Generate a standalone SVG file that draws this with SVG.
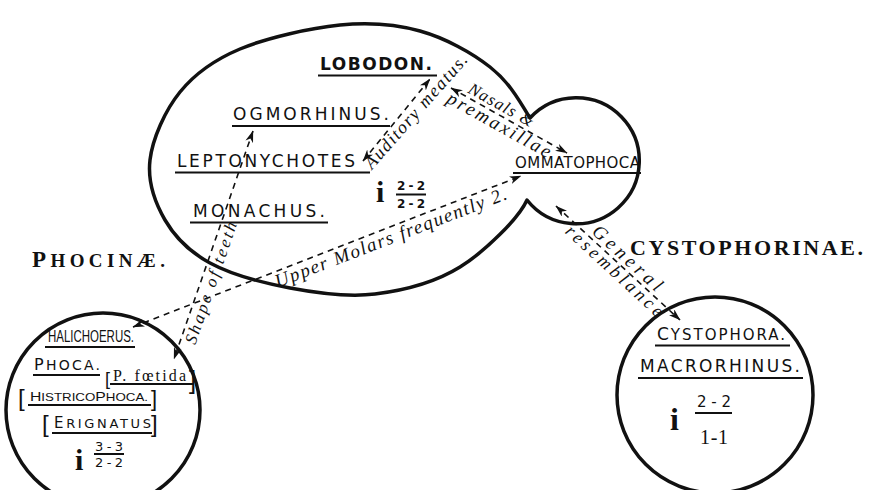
<svg xmlns="http://www.w3.org/2000/svg" width="871" height="490" viewBox="0 0 871 490">
<defs>
<marker id="ah" viewBox="0 0 12 8" refX="11.5" refY="4" markerWidth="12" markerHeight="8" markerUnits="userSpaceOnUse" orient="auto-start-reverse"><path d="M0,0 L12,4 L0,8 L3.5,4 Z" fill="#111"/></marker>
<style>
.cap{font-family:"DejaVu Sans","Liberation Sans",sans-serif;fill:#111}
.br{font-family:"Liberation Sans",sans-serif;fill:#111}
.ser{font-family:"Liberation Serif",serif;fill:#111}
.it{font-family:"Liberation Serif",serif;font-style:italic;fill:#111}
.ul{stroke:#111;stroke-width:2;fill:none}
.outline{stroke:#111;stroke-width:3.5;fill:none;stroke-linejoin:round}
.conn{stroke:#111;stroke-width:1.6;stroke-dasharray:6 5;fill:none;marker-start:url(#ah);marker-end:url(#ah)}
</style>
</defs>
<rect width="871" height="490" fill="#fff"/>

<g id="group-outlines">
<path id="monachinae-outline" class="outline" d="M530,118 C518,98 508.3,81.5 490,67 C471.7,52.5 445,38 420,31 C395,24 370,22 340,25 C310,28 266.7,37.8 240,49 C213.3,60.2 195,73.5 180,92 C165,110.5 152.5,138.7 150,160 C147.5,181.3 155,202.8 165,220 C175,237.2 189.2,251.7 210,263 C230.8,274.3 262.5,282.8 290,288 C317.5,293.2 346.7,297.5 375,294 C403.3,290.5 434.7,282.7 460,267 C485.3,251.3 519,218 527,200 A63,63 0 1 0 530,118 Z"/>
<circle id="phocinae-circle" class="outline" cx="103" cy="410" r="97"/>
<circle id="cystophorinae-circle" class="outline" cx="715" cy="395" r="98"/>
</g>

<g id="titles">
<text class="ser" font-weight="bold" x="32" y="267" textLength="133" lengthAdjust="spacing"><tspan font-size="23">P</tspan><tspan font-size="19">HOCINÆ.</tspan></text>
<text class="ser" font-weight="bold" font-size="22" x="630" y="255" textLength="233" lengthAdjust="spacing">CYSTOPHORINAE.</text>
</g>

<g id="lobodon">
<text class="cap" font-weight="bold" font-size="17" x="320" y="70" textLength="112" lengthAdjust="spacing">LOBODON.</text>
<path class="ul" d="M318,75.5 H437"/>
</g>
<g id="ogmorhinus">
<text class="cap" font-size="17" x="233" y="120" textLength="156" lengthAdjust="spacing">OGMORHINUS.</text>
<path class="ul" d="M232,126 H390"/>
</g>
<g id="leptonychotes">
<text class="cap" font-size="17" x="177" y="167" textLength="178" lengthAdjust="spacing">LEPTONYCHOTES</text>
<path class="ul" d="M175,172.5 H370"/>
</g>
<g id="monachus">
<text class="cap" font-size="17" x="193" y="217" textLength="132" lengthAdjust="spacing">MONACHUS.</text>
<path class="ul" d="M190,222.5 H328"/>
</g>
<g id="ommatophoca">
<text class="cap" font-size="15" x="515" y="168" textLength="125" lengthAdjust="spacing">OMMATOPHOCA</text>
<path class="ul" d="M513,173 H641"/>
</g>
<g id="monachinae-formula">
<text class="ser" font-weight="bold" font-size="30" x="376" y="202">i</text>
<text class="cap" font-weight="bold" font-size="12" x="397" y="190" textLength="28" lengthAdjust="spacing">2-2</text>
<path class="ul" d="M396,194.5 H426" stroke-width="1.5"/>
<text class="cap" font-weight="bold" font-size="12" x="397" y="208" textLength="28" lengthAdjust="spacing">2-2</text>
</g>

<g id="halichoerus">
<text class="br" font-size="16" x="48" y="342" textLength="86" lengthAdjust="spacingAndGlyphs">HALICHOERUS.</text>
<path class="ul" d="M45,347 H135"/>
</g>
<g id="phoca">
<text class="cap" font-size="14" x="34" y="370" textLength="66" lengthAdjust="spacing"><tspan font-size="16">P</tspan>HOCA.</text>
<path class="ul" d="M33,375 H100"/>
</g>
<g id="p-foetida">
<text class="br" font-size="18" x="105" y="385">[</text>
<text class="ser" font-size="16" x="113" y="381" textLength="73" lengthAdjust="spacing">P. fœtida</text>
<path class="ul" d="M110,384 H194"/>
<text class="br" font-size="26" x="189" y="389">]</text>
</g>
<g id="histricophoca">
<text class="br" font-size="24" x="18" y="406">[</text>
<text class="br" font-size="11" x="30" y="401" textLength="118" lengthAdjust="spacingAndGlyphs"><tspan font-size="13">H</tspan>ISTRICO<tspan font-size="13">P</tspan>HOCA.</text>
<path class="ul" d="M28,405 H151"/>
<text class="br" font-size="22" x="151" y="406">]</text>
</g>
<g id="erignatus">
<text class="br" font-size="24" x="42" y="432">[</text>
<text class="cap" font-size="13" x="54" y="428" textLength="97" lengthAdjust="spacing"><tspan font-size="15">E</tspan>RIGNATUS</text>
<path class="ul" d="M52,433 H152"/>
<text class="br" font-size="24" x="151" y="432">]</text>
</g>
<g id="phocinae-formula">
<text class="ser" font-weight="bold" font-size="30" x="75" y="470">i</text>
<text class="cap" font-size="13" x="95" y="451" textLength="28" lengthAdjust="spacing">3-3</text>
<path class="ul" d="M94,454 H124" stroke-width="1.5"/>
<text class="cap" font-size="13" x="95" y="467" textLength="28" lengthAdjust="spacing">2-2</text>
</g>

<g id="cystophora">
<text class="cap" font-size="15" x="657" y="340" textLength="128" lengthAdjust="spacing"><tspan font-size="17">C</tspan>YSTOPHORA.</text>
<path class="ul" d="M655,345.5 H790"/>
</g>
<g id="macrorhinus">
<text class="cap" font-size="17" x="640" y="372" textLength="160" lengthAdjust="spacing">MACRORHINUS.</text>
<path class="ul" d="M638,378 H803"/>
</g>
<g id="cystophorinae-formula">
<text class="ser" font-weight="bold" font-size="32" x="670" y="430">i</text>
<text class="cap" font-size="15" x="697" y="407" textLength="34" lengthAdjust="spacing">2-2</text>
<path class="ul" d="M695,413 H732" stroke-width="1.5"/>
<text class="ser" font-size="20" x="700" y="444" textLength="28" lengthAdjust="spacing">1-1</text>
</g>

<g id="connectors">
<path class="conn" d="M363,161 L430,79"/>
<path class="conn" d="M451,88 L567,153"/>
<path class="conn" d="M253,131 L174,359"/>
<path class="conn" d="M133,327 L521,176"/>
<path class="conn" d="M556,206 L680,320"/>
<g transform="translate(372,170) rotate(-48.6)"><text class="it" font-size="18" x="0" y="0" textLength="146" lengthAdjust="spacing">Auditory meatus.</text></g>
<g transform="translate(451,88) rotate(29)"><text class="it" font-size="17" x="16" y="-4" textLength="72" lengthAdjust="spacing">Nasals &amp;</text><text class="it" font-size="19" x="2" y="15" textLength="116" lengthAdjust="spacing">premaxillae</text></g>
<g transform="translate(556,206) rotate(42.6)"><text class="it" font-size="19" x="44" y="-4" textLength="88" lengthAdjust="spacing">General</text><text class="it" font-size="18" x="24" y="14" textLength="126" lengthAdjust="spacing">resemblance</text></g>
<g transform="translate(174,358) rotate(-71)"><text class="it" font-size="17" x="19" y="16" textLength="128" lengthAdjust="spacing">Shape of teeth</text></g>
<g transform="translate(135,326) rotate(-21.16)"><text class="it" font-size="19" x="147" y="16" textLength="247" lengthAdjust="spacing">Upper Molars frequently 2.</text></g>
</g>
</svg>
